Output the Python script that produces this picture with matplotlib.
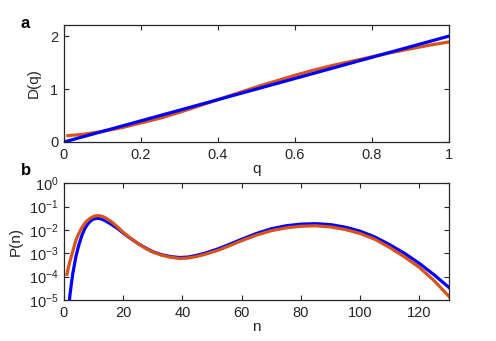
import numpy as np
import matplotlib
matplotlib.use("Agg")
import matplotlib.pyplot as plt
from matplotlib.ticker import FormatStrFormatter, NullLocator

plt.rcParams['font.family'] = ['Liberation Sans', 'DejaVu Sans']
plt.rcParams['mathtext.fontset'] = 'custom'
plt.rcParams['mathtext.rm'] = 'Liberation Sans'
plt.rcParams['axes.unicode_minus'] = False

# panel a: D(q)
q_blue = [0.005, 1.0]
D_blue = [0.01, 2.0]
q_orange = [0.01, 0.05, 0.1, 0.15, 0.2, 0.25, 0.3, 0.35, 0.4, 0.45, 0.5,
            0.55, 0.6, 0.65, 0.7, 0.75, 0.8, 0.85, 0.9, 0.95, 1.0]
D_orange = [0.12, 0.145, 0.2, 0.27, 0.36, 0.45, 0.56, 0.68, 0.8, 0.92, 1.04,
            1.15, 1.26, 1.36, 1.45, 1.53, 1.61, 1.69, 1.76, 1.83, 1.89]

# panel b: log10 P(n)
n_orange = [1, 1.5, 2, 3, 4, 5, 6, 7, 8, 9, 10, 11, 12, 13, 14, 16, 18, 20, 22,
            25, 28, 30, 33, 36, 39, 42, 45, 48, 52, 56, 60, 65, 70, 75, 80, 85, 90,
            95, 100, 105, 110, 115, 120, 125, 130]
logP_orange = [-3.9, -3.6, -3.35, -2.9, -2.45, -2.15, -1.91, -1.72, -1.58, -1.49,
               -1.42, -1.39, -1.39, -1.42, -1.48, -1.64, -1.86, -2.1, -2.3,
               -2.58, -2.82, -2.95, -3.08, -3.17, -3.22, -3.2, -3.13, -3.03,
               -2.87, -2.67, -2.46, -2.22, -2.03, -1.91, -1.84, -1.82, -1.87, -1.98,
               -2.15, -2.4, -2.75, -3.15, -3.6, -4.17, -4.84]
n_blue = [1.5, 2, 2.5, 3, 4, 5, 6, 7, 8, 9, 10, 11, 12, 13, 14, 16, 18, 20, 22,
          25, 28, 30, 33, 36, 39, 42, 45, 48, 52, 56, 60, 65, 70, 75, 80, 85, 90,
          95, 100, 105, 110, 115, 120, 125, 130]
logP_blue = [-5.5, -4.8, -4.3, -3.85, -3.15, -2.65, -2.25, -1.95, -1.75, -1.61,
             -1.53, -1.5, -1.51, -1.55, -1.61, -1.76, -1.93, -2.13, -2.32,
             -2.58, -2.8, -2.93, -3.06, -3.14, -3.18, -3.16, -3.08, -2.98,
             -2.81, -2.61, -2.4, -2.15, -1.95, -1.82, -1.75, -1.73, -1.77, -1.88,
             -2.05, -2.3, -2.63, -3.0, -3.43, -3.92, -4.46]

BLUE = '#0000ff'
ORANGE = '#d95319'
AX = '#262626'

fig = plt.figure(figsize=(4.96, 3.41), dpi=100)
ax1 = fig.add_axes([0.129, 0.5836, 0.776, 0.343])
ax2 = fig.add_axes([0.129, 0.1202, 0.776, 0.3423])

for ax in (ax1, ax2):
    ax.tick_params(direction='in', top=True, right=True, length=3.5,
                   width=0.8, colors=AX, labelsize=10.5, pad=4)
    for s in ax.spines.values():
        s.set_color(AX)
        s.set_linewidth(0.9)

ax1.plot(q_orange, D_orange, color=ORANGE, lw=2.3)
ax1.plot(q_blue, D_blue, color=BLUE, lw=2.3)
ax1.set_xlim(0, 1)
ax1.set_ylim(0, 2.21)
ax1.set_xticks([0, 0.2, 0.4, 0.6, 0.8, 1])
ax1.xaxis.set_major_formatter(FormatStrFormatter('%g'))
ax1.set_yticks([0, 1, 2])
ax1.set_xlabel('q', fontsize=11, color=AX, labelpad=0)
ax1.set_ylabel('D(q)', fontsize=11, color=AX, labelpad=7)

ax2.plot(n_blue, 10 ** np.array(logP_blue), color=BLUE, lw=2.3)
ax2.plot(n_orange, 10 ** np.array(logP_orange), color=ORANGE, lw=2.3)
ax2.set_yscale('log')
ax2.set_xlim(0, 130)
ax2.set_ylim(1e-5, 1)
ax2.set_xticks([0, 20, 40, 60, 80, 100, 120])
ax2.set_yticks([1e-5, 1e-4, 1e-3, 1e-2, 1e-1, 1])
ax2.yaxis.set_minor_locator(NullLocator())
ax2.set_xlabel('n', fontsize=11, color=AX, labelpad=0)
ax2.set_ylabel('P(n)', fontsize=11, color=AX, labelpad=4)

fig.text(0.05, 0.93, 'a', fontsize=12, fontweight='bold', ha='center', va='center')
fig.text(0.053, 0.50, 'b', fontsize=12, fontweight='bold', ha='center', va='center')

fig.savefig('out.png', dpi=100)
